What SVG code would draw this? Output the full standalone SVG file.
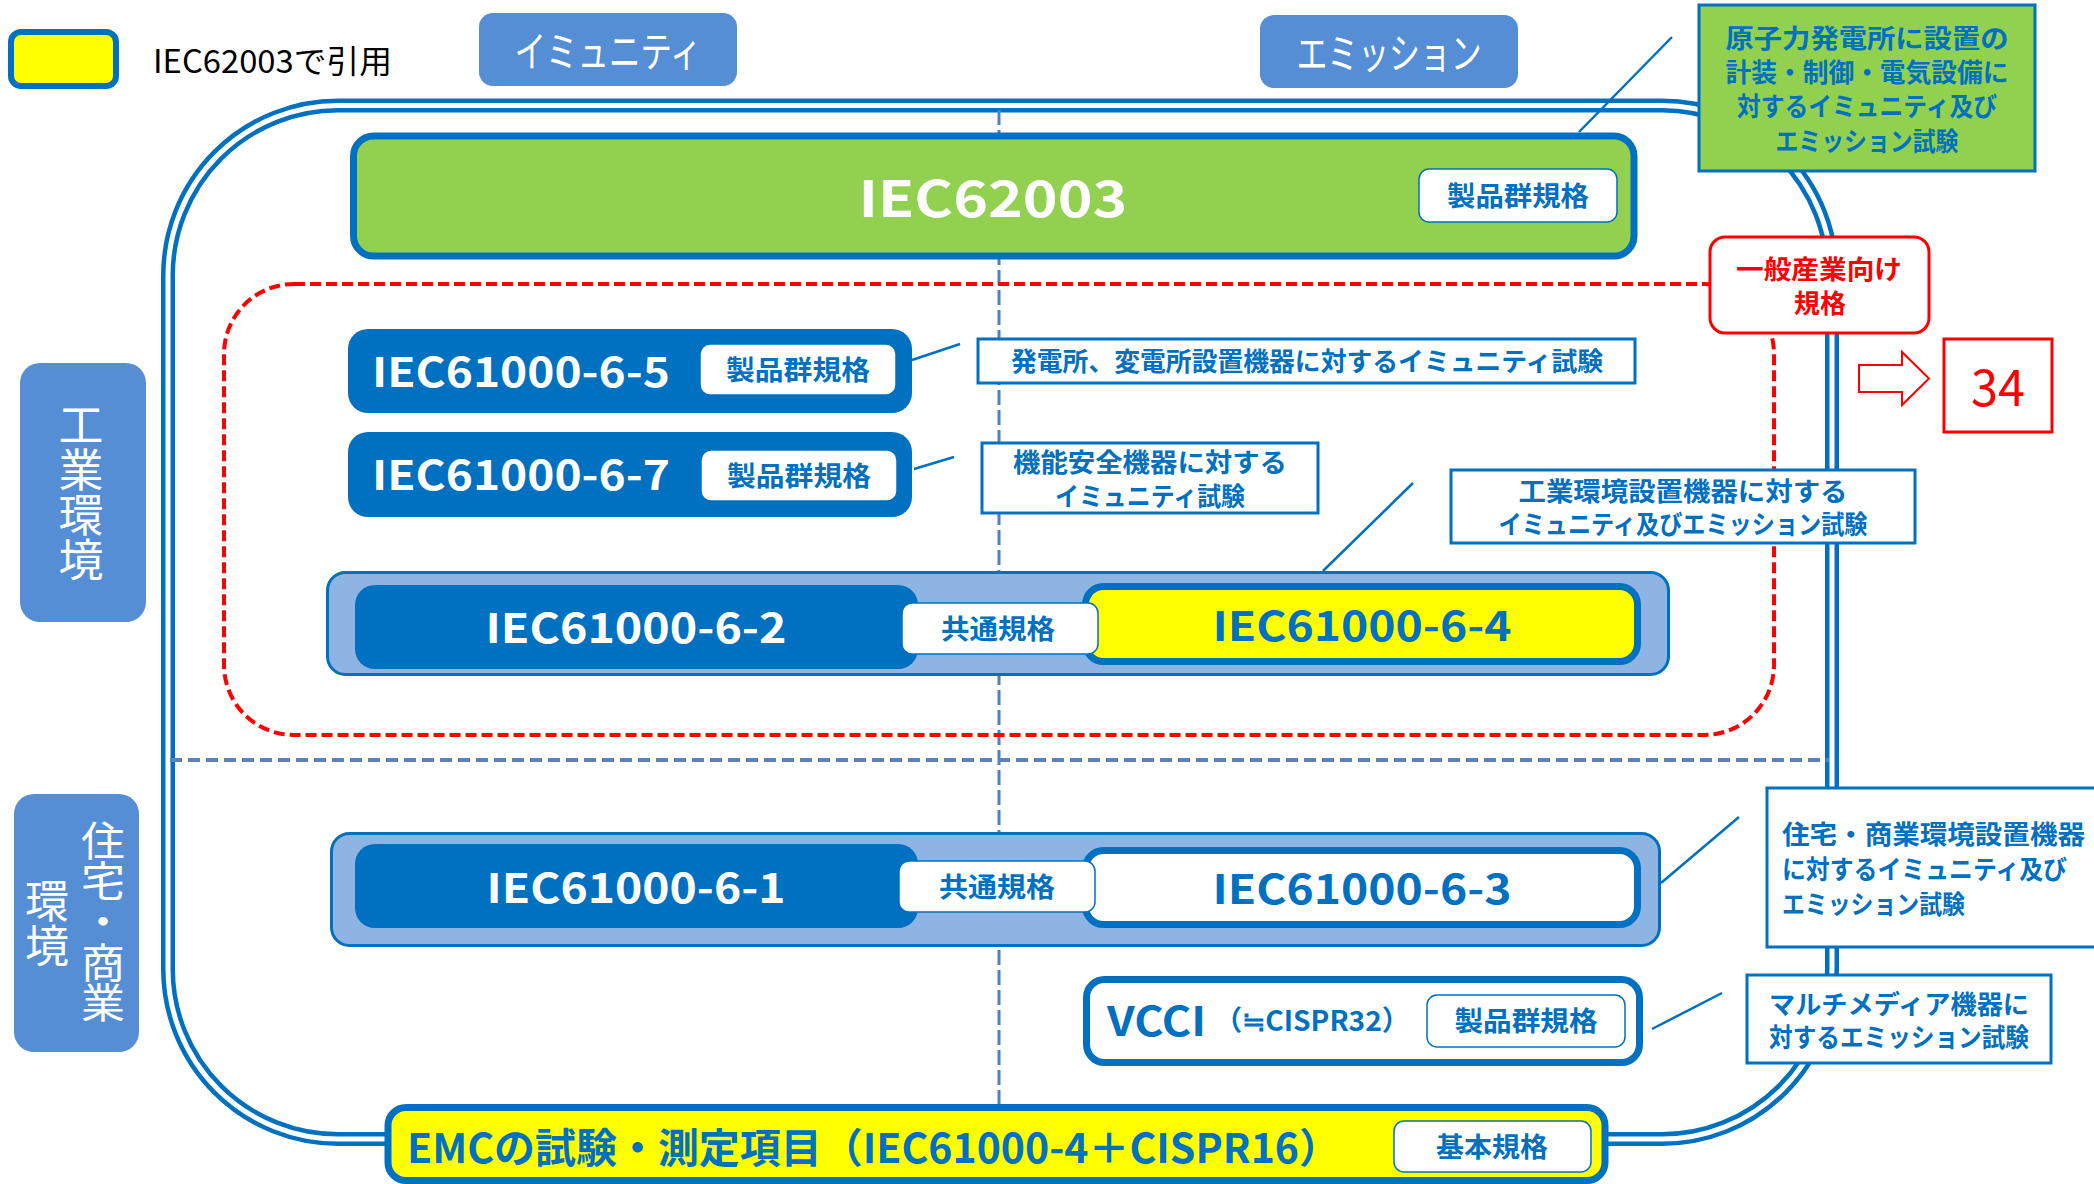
<svg xmlns="http://www.w3.org/2000/svg" width="2094" height="1184" viewBox="0 0 2094 1184">
<style>
text{font-family:"Noto Sans CJK JP","Noto Sans",sans-serif;dominant-baseline:central;text-anchor:middle}
.b{font-weight:700}
.w{fill:#FFFFFF}
.bl{fill:#0070C0}
.cap{font-size:26px;font-weight:700;fill:#0070C0}
.badge{fill:#FFFFFF;stroke:#0070C0;stroke-width:1.5}
.btxt{font-size:27px;font-weight:700;fill:#0070C0}
.dk{fill:#0070C0}
.lbl{fill:#558ED5}
.cont{fill:#8EB4E3;stroke:#0070C0;stroke-width:3}
.call{fill:#FFFFFF;stroke:#0070C0;stroke-width:3}
.iec{font-size:41px;font-weight:700}
.ln{stroke:#0070C0;stroke-width:2.5;fill:none}
</style>

<!-- outer double frame -->
<g id="frame">
<path d="M338,105.5 H1662 A170,170 0 0 1 1832,275.5 V969 A170,170 0 0 1 1662,1139 H338 A170,170 0 0 1 168,969 V275.5 A170,170 0 0 1 338,105.5 Z" fill="none" stroke="#0070C0" stroke-width="14"/>
<path d="M338,105.5 H1662 A170,170 0 0 1 1832,275.5 V969 A170,170 0 0 1 1662,1139 H338 A170,170 0 0 1 168,969 V275.5 A170,170 0 0 1 338,105.5 Z" fill="none" stroke="#FFFFFF" stroke-width="5"/>
</g>

<!-- dividers -->
<g id="dividers">
<line x1="999" y1="110" x2="999" y2="1104" stroke="#4F81BD" stroke-width="3" stroke-dasharray="15 5"/>
<line x1="170" y1="760" x2="1829" y2="760" stroke="#5B82C0" stroke-width="4" stroke-dasharray="12 6"/>
<rect x="224" y="284" width="1550" height="451" rx="70" fill="none" stroke="#FF0000" stroke-width="4" stroke-dasharray="11 5"/>
</g>

<!-- connectors -->
<g id="connectors">
<line class="ln" x1="1579" y1="132" x2="1672" y2="37"/>
<line class="ln" x1="912" y1="360" x2="960" y2="344"/>
<line class="ln" x1="914" y1="469" x2="954" y2="457"/>
<line class="ln" x1="1323" y1="571" x2="1413" y2="483"/>
<line class="ln" x1="1661" y1="883" x2="1739" y2="817"/>
<line class="ln" x1="1652" y1="1029" x2="1722" y2="993"/>
</g>

<!-- legend -->
<g id="legend">
<rect x="11" y="32" width="105" height="54" rx="10" fill="#FFFF00" stroke="#0070C0" stroke-width="6"/>
<text x="153" y="58.5" font-size="32" style="text-anchor:start" fill="#000000" textLength="239" lengthAdjust="spacingAndGlyphs">IEC62003で引用</text>
</g>

<g id="immunity">
<rect x="479" y="13" width="258" height="73" rx="14" class="lbl"/>
<text x="608" y="48.5" font-size="42" class="w" textLength="187" lengthAdjust="spacingAndGlyphs">イミュニティ</text>
</g>
<g id="emission">
<rect x="1260" y="15" width="258" height="73" rx="14" class="lbl"/>
<text x="1389" y="50.5" font-size="42" class="w" textLength="185" lengthAdjust="spacingAndGlyphs">エミッション</text>
</g>

<g id="label-industrial">
<rect x="20" y="363" width="126" height="259" rx="20" class="lbl"/>
<text x="81" y="492" font-size="45" class="w" writing-mode="vertical-rl" textLength="180" lengthAdjust="spacingAndGlyphs">工業環境</text>
</g>
<g id="label-residential">
<rect x="14" y="794" width="125" height="258" rx="20" class="lbl"/>
<text x="103" y="921.5" font-size="44" class="w" writing-mode="vertical-rl" textLength="203" lengthAdjust="spacingAndGlyphs">住宅・商業</text>
<text x="47" y="923" font-size="44" class="w" writing-mode="vertical-rl" textLength="90" lengthAdjust="spacingAndGlyphs">環境</text>
</g>

<!-- IEC62003 -->
<g id="iec62003">
<rect x="353.5" y="136" width="1280.5" height="120" rx="20" fill="#92D050" stroke="#0070C0" stroke-width="7"/>
<text x="993" y="195" font-size="50" class="b w" textLength="269" lengthAdjust="spacingAndGlyphs">IEC62003</text>
<rect x="1419" y="169" width="198" height="53" rx="10" class="badge"/>
<text x="1518" y="194" class="btxt" textLength="142" lengthAdjust="spacingAndGlyphs">製品群規格</text>
</g>

<g id="callout-nuclear">
<rect x="1699" y="5" width="336" height="166" fill="#92D050" stroke="#0070C0" stroke-width="3"/>
<text x="1867" y="36" class="cap" textLength="283" lengthAdjust="spacingAndGlyphs">原子力発電所に設置の</text>
<text x="1867" y="70" class="cap" textLength="283" lengthAdjust="spacingAndGlyphs">計装・制御・電気設備に</text>
<text x="1867" y="104" class="cap" textLength="260" lengthAdjust="spacingAndGlyphs">対するイミュニティ及び</text>
<text x="1867" y="139" class="cap" textLength="183" lengthAdjust="spacingAndGlyphs">エミッション試験</text>
</g>

<g id="general-industry">
<rect x="1710" y="237" width="219" height="96" rx="15" fill="#FFFFFF" stroke="#FF0000" stroke-width="3"/>
<text x="1819" y="267" font-size="26" class="b" fill="#FF0000" textLength="166" lengthAdjust="spacingAndGlyphs">一般産業向け</text>
<text x="1820" y="301" font-size="26" class="b" fill="#FF0000">規格</text>
</g>

<g id="ref34">
<polygon points="1859,365 1902,365 1902,352 1929,378.5 1902,405 1902,392 1859,392" fill="#FFFFFF" stroke="#FF0000" stroke-width="2"/>
<rect x="1944" y="339" width="108" height="93" fill="#FFFFFF" stroke="#FF0000" stroke-width="3"/>
<text x="1998" y="384" font-size="50" fill="#FF0000" textLength="54" lengthAdjust="spacingAndGlyphs">34</text>
</g>

<!-- IEC61000-6-5 -->
<g id="iec61000-6-5">
<rect x="348" y="329" width="564" height="84" rx="20" class="dk"/>
<text x="521" y="369" class="iec w" textLength="298" lengthAdjust="spacingAndGlyphs">IEC61000-6-5</text>
<rect x="700" y="344" width="196" height="51" rx="10" class="badge"/>
<text x="798" y="368" class="btxt" textLength="144" lengthAdjust="spacingAndGlyphs">製品群規格</text>
</g>
<g id="callout-6-5">
<rect x="978" y="339" width="657" height="44" class="call"/>
<text x="1307" y="359.5" class="cap" textLength="592" lengthAdjust="spacingAndGlyphs">発電所、変電所設置機器に対するイミュニティ試験</text>
</g>

<g id="iec61000-6-7">
<rect x="348" y="432" width="564" height="85" rx="20" class="dk"/>
<text x="521" y="472" class="iec w" textLength="298" lengthAdjust="spacingAndGlyphs">IEC61000-6-7</text>
<rect x="701" y="450" width="196" height="51" rx="10" class="badge"/>
<text x="799" y="474" class="btxt" textLength="144" lengthAdjust="spacingAndGlyphs">製品群規格</text>
</g>
<g id="callout-6-7">
<rect x="982" y="443" width="336" height="70" class="call"/>
<text x="1150" y="460" class="cap" textLength="274" lengthAdjust="spacingAndGlyphs">機能安全機器に対する</text>
<text x="1150" y="494.5" class="cap" textLength="190" lengthAdjust="spacingAndGlyphs">イミュニティ試験</text>
</g>

<g id="callout-industrial">
<rect x="1451" y="470" width="464" height="73" class="call"/>
<text x="1683" y="489.5" class="cap" textLength="329" lengthAdjust="spacingAndGlyphs">工業環境設置機器に対する</text>
<text x="1683" y="522.5" class="cap" textLength="369" lengthAdjust="spacingAndGlyphs">イミュニティ及びエミッション試験</text>
</g>

<!-- 6-2 / 6-4 -->
<g id="industrial-pair">
<rect x="327.5" y="572.5" width="1341" height="102" rx="18" class="cont"/>
<g id="iec61000-6-2">
<rect x="355" y="585" width="563" height="84" rx="20" class="dk"/>
<text x="636" y="625" class="iec w" textLength="301" lengthAdjust="spacingAndGlyphs">IEC61000-6-2</text>
</g>
<g id="iec61000-6-4">
<rect x="1085.5" y="586.5" width="552" height="75" rx="18" fill="#FFFF00" stroke="#0070C0" stroke-width="7"/>
<text x="1362" y="623" class="iec bl" textLength="299" lengthAdjust="spacingAndGlyphs">IEC61000-6-4</text>
</g>
<rect x="902" y="603" width="196" height="51" rx="10" class="badge"/>
<text x="998" y="627" class="btxt" textLength="114" lengthAdjust="spacingAndGlyphs">共通規格</text>
</g>

<!-- 6-1 / 6-3 -->
<g id="residential-pair">
<rect x="331.5" y="833.5" width="1328" height="112" rx="18" class="cont"/>
<g id="iec61000-6-1">
<rect x="355" y="844" width="563" height="84" rx="20" class="dk"/>
<text x="636" y="884.5" class="iec w" textLength="299" lengthAdjust="spacingAndGlyphs">IEC61000-6-1</text>
</g>
<g id="iec61000-6-3">
<rect x="1085.5" y="850.5" width="552" height="74" rx="18" fill="#FFFFFF" stroke="#0070C0" stroke-width="7"/>
<text x="1362" y="885.5" class="iec bl" textLength="299" lengthAdjust="spacingAndGlyphs">IEC61000-6-3</text>
</g>
<rect x="899" y="861" width="196" height="51" rx="10" class="badge"/>
<text x="997" y="885" class="btxt" textLength="116" lengthAdjust="spacingAndGlyphs">共通規格</text>
</g>

<g id="callout-residential">
<rect x="1767" y="788" width="340" height="159" class="call"/>
<text x="1782" y="832" class="cap" style="text-anchor:start" textLength="303" lengthAdjust="spacingAndGlyphs">住宅・商業環境設置機器</text>
<text x="1782" y="867" class="cap" style="text-anchor:start" textLength="285" lengthAdjust="spacingAndGlyphs">に対するイミュニティ及び</text>
<text x="1782" y="902" class="cap" style="text-anchor:start" textLength="183" lengthAdjust="spacingAndGlyphs">エミッション試験</text>
</g>

<g id="vcci">
<rect x="1086.5" y="979.5" width="553" height="83" rx="18" fill="#FFFFFF" stroke="#0070C0" stroke-width="7"/>
<text y="1019" class="b bl" style="text-anchor:start"><tspan x="1107" font-size="40" textLength="99" lengthAdjust="spacingAndGlyphs">VCCI</tspan><tspan x="1214" font-size="28" textLength="196" lengthAdjust="spacingAndGlyphs">（≒CISPR32）</tspan></text>
<rect x="1427" y="995" width="198" height="52" rx="10" class="badge"/>
<text x="1526" y="1019" class="btxt" textLength="143" lengthAdjust="spacingAndGlyphs">製品群規格</text>
</g>

<g id="callout-multimedia">
<rect x="1747" y="975" width="304" height="88" class="call"/>
<text x="1899" y="1002" class="cap" textLength="260" lengthAdjust="spacingAndGlyphs">マルチメディア機器に</text>
<text x="1899" y="1035" class="cap" textLength="260" lengthAdjust="spacingAndGlyphs">対するエミッション試験</text>
</g>

<g id="emc">
<rect x="388" y="1107.5" width="1217" height="73" rx="18" fill="#FFFF00" stroke="#0070C0" stroke-width="7"/>
<text x="407" y="1145" font-size="41" class="b bl" style="text-anchor:start" textLength="933" lengthAdjust="spacingAndGlyphs">EMCの試験・測定項目（IEC61000-4＋CISPR16）</text>
<rect x="1394" y="1121" width="197" height="51" rx="10" class="badge"/>
<text x="1492" y="1145" class="btxt" textLength="112" lengthAdjust="spacingAndGlyphs">基本規格</text>
</g>
</svg>
